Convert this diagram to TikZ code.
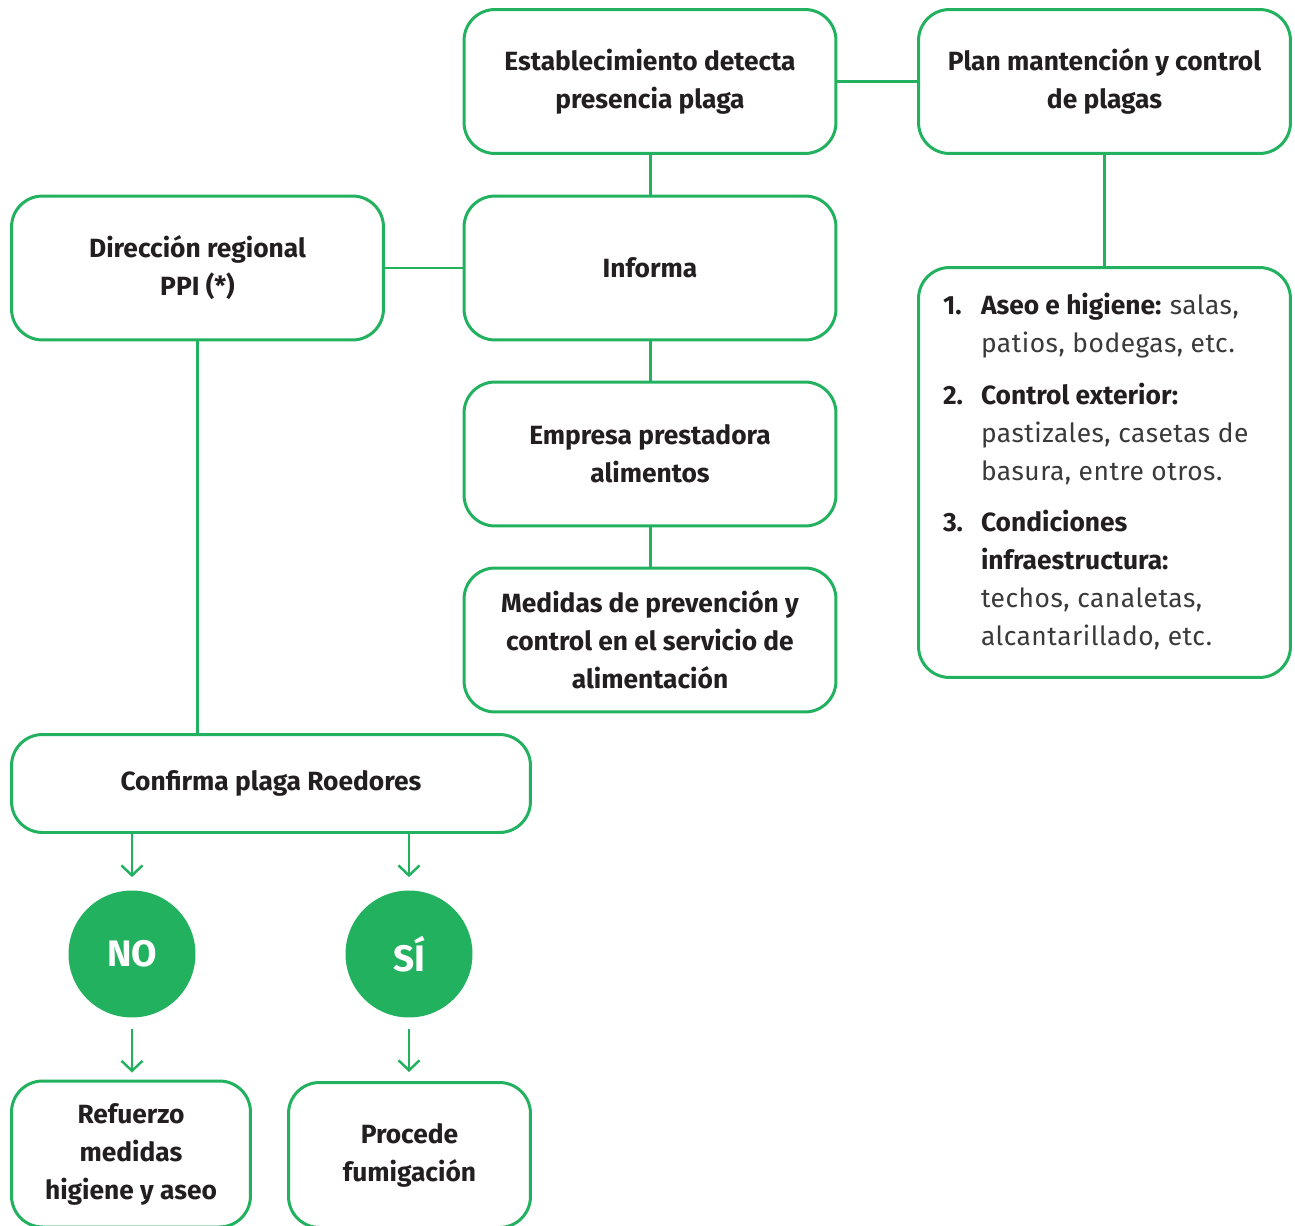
\documentclass[tikz,border=0pt]{standalone}
\usepackage{fontspec}
\setmainfont{Fira Sans}
\newfontfamily\listfont[LetterSpace=2]{Fira Sans}
\usepackage{array}
\usetikzlibrary{arrows.meta,positioning,calc}
\definecolor{gGreen}{HTML}{21B15F}
\definecolor{gInk}{HTML}{231F20}
\definecolor{gGrey}{HTML}{3A3A3A}
\newcommand{\descr}[1]{\leavevmode{\listfont\mdseries\color{gGrey}#1}}
\tikzset{
  setF/.style={
    font=\fontsize{15}{21.6}\selectfont\bfseries,
    line join=round,
  },
  block/.style={
    draw=gGreen, line width=1.7pt, rounded corners=0.62cm,
    fill=white, align=center, text=gInk, inner sep=0pt,
    minimum width=7.44cm, minimum height=2.88cm,
  },
  link/.style={gGreen, line width=1.7pt},
  flow/.style={-{Straight Barb[length=0.2cm, width=0.42cm]}, gGreen, line width=1.4pt},
  answer/.style={
    circle, fill=gGreen, minimum size=2.54cm, inner sep=0pt,
    text=white, font=\fontsize{21}{24}\selectfont\bfseries,
  },
}

\begin{document}
\begin{tikzpicture}[setF, x=0.02cm, y=-0.02cm]
\useasboundingbox (0,0) rectangle (1295,1226);

% ============================================================
% Central column
% ============================================================
\node[block] (detect) at (650,81.5)
  {Establecimiento detecta\\presencia plaga};
\node[block] (inform) at (650,268) {Informa};
\node[block] (empresa) at (650,454) {Empresa prestadora\\alimentos};
\node[block] (medidas) at (650,640)
  {Medidas de prevención y\\control en el servicio de\\alimentación};

% ============================================================
% Right column: plan and list of actions
% ============================================================
\node[block] (plan) at (1104.5,81.5) {Plan mantención y control\\de plagas};
\node[block, minimum height=8.2cm, align=left] (lista) at (1104.5,472.5) {%
  \begin{tabular}{@{}p{0.76cm}@{}p{5.7cm}@{}}
  1. & Aseo e higiene: \descr{salas,}\\
     & \descr{patios, bodegas, etc.}\\[0.27cm]
  2. & Control exterior:\\
     & \descr{pastizales, casetas de}\\
     & \descr{basura, entre otros.}\\[0.27cm]
  3. & Condiciones\\
     & infraestructura:\\
     & \descr{techos, canaletas,}\\
     & \descr{alcantarillado, etc.}
  \end{tabular}};

% ============================================================
% Left column: regional office and decision
% ============================================================
\node[block] (region) at (197.5,268) {Dirección regional\\PPI (*)};
\node[block, minimum width=10.38cm, minimum height=1.96cm] (confirma)
  at (271,783.5) {Confirma plaga Roedores};

\node[answer] (no) at (132,954) {NO};
\node[answer] (si) at (409,954) {SÍ};

\node[block, minimum width=4.78cm, minimum height=2.92cm] (refuerzo)
  at (131,1154) {Refuerzo\\medidas\\higiene y aseo};
\node[block, minimum width=4.84cm, minimum height=2.9cm] (fumiga)
  at (409.5,1155) {Procede\\fumigación};

% ============================================================
% Connectors
% ============================================================
\draw[link] (detect) -- (plan);
\draw[link] (detect) -- (inform);
\draw[link] (inform) -- (empresa);
\draw[link] (empresa) -- (medidas);
\draw[link] (region) -- (inform);
\draw[link] (plan) -- (lista);
\draw[link] (region.south) -- (region.south |- confirma.north);

% arrows to the answers and on to the actions
\draw[flow, shorten >=0.26cm] (confirma.south -| no.north) -- (no.north);
\draw[flow, shorten >=0.26cm] (confirma.south -| si.north) -- (si.north);
\draw[flow, shorten <=0.22cm, shorten >=0.14cm]
  (no.south) -- (no.south |- refuerzo.north);
\draw[flow, shorten <=0.22cm, shorten >=0.18cm]
  (si.south) -- (si.south |- fumiga.north);

\end{tikzpicture}
\end{document}
